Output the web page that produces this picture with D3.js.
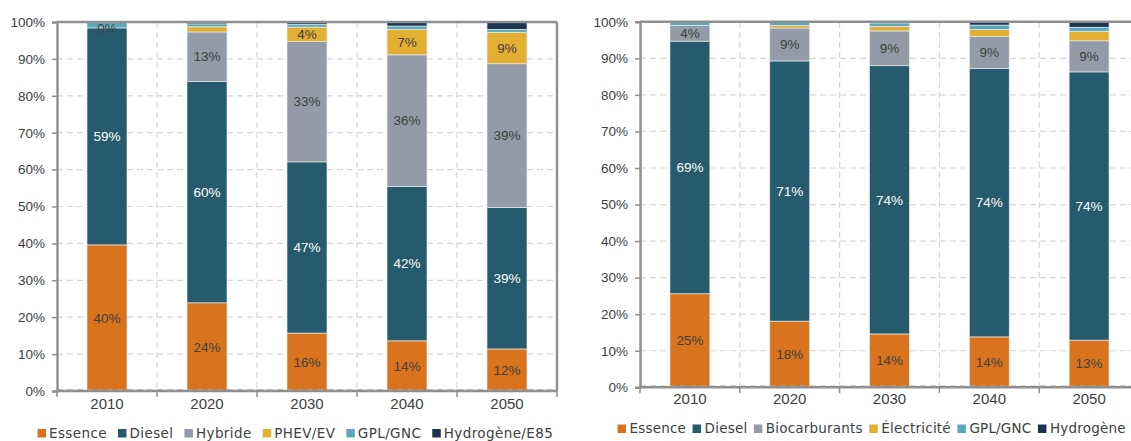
<!DOCTYPE html>
<html>
<head>
<meta charset="utf-8">
<script src="https://cdn.jsdelivr.net/npm/d3@7"></script>
<style>
  html, body { margin: 0; padding: 0; background: #fff; }
  svg { display: block; }
</style>
</head>
<body>
<svg id="chart" width="1131" height="441"></svg>
<script>
// ---------- DATA ----------
const years = ["2010", "2020", "2030", "2040", "2050"];
const yTickValues = [0, 10, 20, 30, 40, 50, 60, 70, 80, 90, 100];

// Left chart
const leftSeriesNames = ["Essence", "Diesel", "Hybride", "PHEV/EV", "GPL/GNC", "Hydrogène/E85"];
const leftEssence  = [39.6, 23.9, 15.7, 13.6, 11.4];
const leftDiesel   = [58.8, 60.0, 46.4, 41.8, 38.3];
const leftHybride  = [0.0, 13.4, 32.6, 35.7, 39.0];
const leftPHEV     = [0.0, 1.4, 3.9, 6.9, 8.5];
const leftGPL      = [1.6, 0.8, 0.8, 0.9, 0.8];
const leftHydrogen = [0.0, 0.5, 0.6, 1.1, 2.0];
const leftEssenceLabels = ["40%", "24%", "16%", "14%", "12%"];
const leftDieselLabels  = ["59%", "60%", "47%", "42%", "39%"];
const leftHybrideLabels = ["0%", "13%", "33%", "36%", "39%"];
const leftPHEVLabels    = ["", "", "4%", "7%", "9%"];

// Right chart
const rightSeriesNames = ["Essence", "Diesel", "Biocarburants", "Électricité", "GPL/GNC", "Hydrogène"];
const rightEssence  = [25.6, 18.1, 14.6, 13.8, 12.9];
const rightDiesel   = [69.1, 71.2, 73.4, 73.4, 73.4];
const rightBio      = [4.3, 9.0, 9.5, 8.8, 8.5];
const rightElec     = [0.0, 0.7, 1.2, 1.9, 2.6];
const rightGPL      = [1.0, 1.0, 1.0, 1.2, 1.1];
const rightHydrogen = [0.0, 0.0, 0.3, 0.9, 1.5];
const rightEssenceLabels = ["25%", "18%", "14%", "14%", "13%"];
const rightDieselLabels  = ["69%", "71%", "74%", "74%", "74%"];
const rightBioLabels     = ["4%", "9%", "9%", "9%", "9%"];

// ---------- STYLE ----------
const seriesColors = ["#D9731D", "#265B6E", "#929BA7", "#E3AF33", "#5BA9B9", "#1B3452"];
const labelColors  = ["#404040", "#ffffff", "#404040", "#404040", "#404040", "#404040"];
const axisColor = "#8f8f8f";
const gridColor = "#d6d6d6";
const textColor = "#404040";
const FONT = "'Liberation Sans', Arial, sans-serif";
const LEGEND_FONT = "'DejaVu Sans', Verdana, sans-serif";

const svg = d3.select("#chart");

function drawChart(cfg) {
  const g = svg.append("g");
  const x = d3.scaleBand().domain(years).range([cfg.x0, cfg.x1])
    .paddingInner(0.6).paddingOuter(0.3);
  const y = d3.scaleLinear().domain([0, 100]).range([cfg.yBottom, cfg.yTop]);

  // grid lines
  g.append("g").selectAll("line.h").data(yTickValues.filter(v => v > 0 && v < 100))
    .join("line")
    .attr("x1", cfg.x0).attr("x2", cfg.x1)
    .attr("y1", d => y(d)).attr("y2", d => y(d))
    .attr("stroke", gridColor).attr("stroke-width", 1.2)
    .attr("stroke-dasharray", "6,4");
  const step = x.step();
  const bounds = d3.range(1, years.length).map(i => cfg.x0 + i * step);
  g.append("g").selectAll("line.v").data(bounds).join("line")
    .attr("x1", d => d).attr("x2", d => d)
    .attr("y1", cfg.yTop).attr("y2", cfg.yBottom)
    .attr("stroke", gridColor).attr("stroke-width", 1.2)
    .attr("stroke-dasharray", "6,4");

  // stacked data
  const rows = years.map((yr, i) => {
    const r = { year: yr };
    cfg.names.forEach((n, k) => r[n] = cfg.values[k][i]);
    return r;
  });
  const stack = d3.stack().keys(cfg.names)(rows);

  const layers = g.append("g").selectAll("g").data(stack).join("g")
    .attr("fill", (d, k) => seriesColors[k]);
  layers.selectAll("rect").data(d => d).join("rect")
    .attr("x", d => x(d.data.year))
    .attr("width", x.bandwidth())
    .attr("y", d => y(d[1]))
    .attr("height", d => Math.max(0, y(d[0]) - y(d[1])))
    .attr("stroke", "rgba(235,240,242,0.8)")
    .attr("stroke-width", 0.8);

  // dashed 0% line over the bar bottoms
  g.append("line")
    .attr("x1", cfg.x0).attr("x2", cfg.x1)
    .attr("y1", y(0) - 1.2).attr("y2", y(0) - 1.2)
    .attr("stroke", "#b0b0b0").attr("stroke-width", 1.2)
    .attr("stroke-dasharray", "6,4");

  // labels
  cfg.labels.forEach((labs, k) => {
    if (!labs) return;
    const layer = stack[k];
    g.append("g").selectAll("text").data(layer).join("text")
      .attr("x", d => x(d.data.year) + x.bandwidth() / 2)
      .attr("y", d => (y(d[0]) + y(d[1])) / 2)
      .attr("dy", "0.35em")
      .attr("text-anchor", "middle")
      .attr("font-family", FONT)
      .attr("font-size", 13.5)
      .attr("fill", labelColors[k])
      .text((d, i) => labs[i]);
  });

  // axes / frame
  const yAxis = d3.axisLeft(y).tickValues(yTickValues).tickSize(5)
    .tickFormat(d => d + "%");
  const ya = g.append("g").attr("transform", `translate(${cfg.x0},0)`).call(yAxis);
  ya.select(".domain").attr("stroke", axisColor).attr("stroke-width", 2.4);
  ya.selectAll(".tick line").attr("stroke", axisColor).attr("stroke-width", 1.5);
  ya.selectAll(".tick text").attr("font-family", FONT).attr("font-size", 13.5)
    .attr("fill", textColor).attr("x", -12);

  // top frame line at 100%
  g.append("line").attr("x1", cfg.x0).attr("x2", cfg.x1)
    .attr("y1", y(100)).attr("y2", y(100))
    .attr("stroke", axisColor).attr("stroke-width", 2.4);
  if (cfg.rightBorder) {
    g.append("line").attr("x1", cfg.x1).attr("x2", cfg.x1)
      .attr("y1", y(100)).attr("y2", y(0))
      .attr("stroke", axisColor).attr("stroke-width", 2.4);
  }

  // bottom axis
  g.append("line").attr("x1", cfg.x0 - 1).attr("x2", cfg.x1)
    .attr("y1", y(0)).attr("y2", y(0))
    .attr("stroke", axisColor).attr("stroke-width", 2.4);
  g.append("g").selectAll("line").data([cfg.x0].concat(bounds).concat([cfg.x1]))
    .join("line")
    .attr("x1", d => d).attr("x2", d => d)
    .attr("y1", y(0)).attr("y2", y(0) + 6)
    .attr("stroke", axisColor).attr("stroke-width", 1.5);
  g.append("g").selectAll("text").data(years).join("text")
    .attr("x", d => x(d) + x.bandwidth() / 2)
    .attr("y", y(0) + cfg.xLabelOffset)
    .attr("text-anchor", "middle")
    .attr("font-family", FONT).attr("font-size", 15)
    .attr("fill", textColor)
    .text(d => d);

  // legend
  const lg = g.append("g");
  let cx = cfg.legendX;
  cfg.names.forEach((n, k) => {
    lg.append("rect").attr("x", cx).attr("y", cfg.legendY - 8.5)
      .attr("width", 8.5).attr("height", 8.5).attr("fill", seriesColors[k]);
    const t = lg.append("text").attr("x", cx + 8.5 + cfg.legendTextGap)
      .attr("y", cfg.legendY)
      .attr("font-family", LEGEND_FONT).attr("font-size", cfg.legendFont)
      .attr("letter-spacing", cfg.legendSpacing)
      .attr("fill", textColor).text(n);
    cx += 8.5 + cfg.legendTextGap + t.node().getComputedTextLength() + cfg.legendGap;
  });
}

drawChart({
  x0: 57, x1: 557, yTop: 22, yBottom: 391,
  names: leftSeriesNames,
  values: [leftEssence, leftDiesel, leftHybride, leftPHEV, leftGPL, leftHydrogen],
  labels: [leftEssenceLabels, leftDieselLabels, leftHybrideLabels, leftPHEVLabels, null, null],
  rightBorder: true,
  xLabelOffset: 18,
  legendX: 37.5, legendY: 437.5, legendTextGap: 3, legendGap: 11,
  legendFont: 13.5, legendSpacing: 0.4
});

drawChart({
  x0: 640, x1: 1139, yTop: 21.8, yBottom: 387.3,
  names: rightSeriesNames,
  values: [rightEssence, rightDiesel, rightBio, rightElec, rightGPL, rightHydrogen],
  labels: [rightEssenceLabels, rightDieselLabels, rightBioLabels, null, null, null],
  rightBorder: false,
  xLabelOffset: 17,
  legendX: 617.5, legendY: 433, legendTextGap: 3.5, legendGap: 6.5,
  legendFont: 13.5, legendSpacing: 0.2
});
</script>
</body>
</html>
